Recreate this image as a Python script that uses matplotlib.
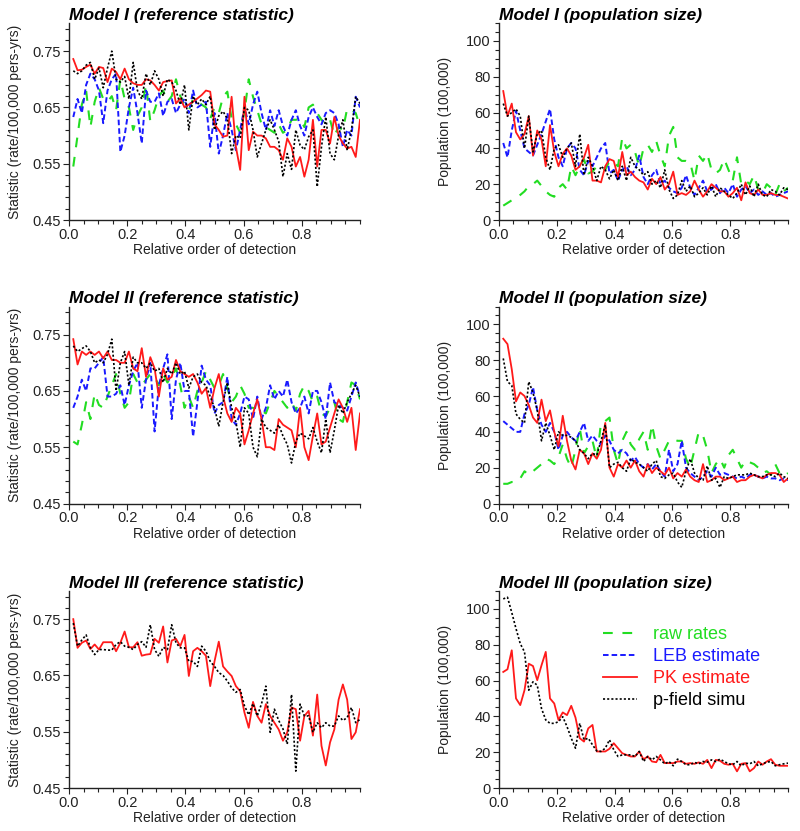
import numpy as np
import matplotlib
matplotlib.use('Agg')
import matplotlib.pyplot as plt
from matplotlib.lines import Line2D
from matplotlib.ticker import FixedLocator, FormatStrFormatter

plt.rcParams['font.family'] = ['Liberation Sans', 'DejaVu Sans']
plt.rcParams['lines.scale_dashes'] = False

# ---------------- data ----------------
N = 68
order = np.arange(1, N + 1) / N   # relative order of detection

series_names = ['raw rates', 'LEB estimate', 'PK estimate', 'p-field simu']

# Model I - reference statistic
m1_stat_raw = [0.545, 0.600, 0.655, 0.680, 0.615, 0.660, 0.685, 0.665, 0.660, 0.670,
               0.645, 0.700, 0.665, 0.650, 0.610, 0.635, 0.650, 0.690, 0.625, 0.645,
               0.670, 0.680, 0.660, 0.670, 0.700, 0.670, 0.655, 0.645, 0.665, 0.660,
               0.655, 0.650, 0.630, 0.650, 0.640, 0.669, 0.678, 0.630, 0.620, 0.605,
               0.643, 0.700, 0.669, 0.645, 0.620, 0.615, 0.610, 0.605, 0.620, 0.605,
               0.610, 0.628, 0.628, 0.630, 0.615, 0.650, 0.655, 0.640, 0.628, 0.620,
               0.628, 0.600, 0.615, 0.610, 0.648, 0.645, 0.640, 0.615]
m1_stat_leb = [0.633, 0.665, 0.640, 0.690, 0.710, 0.700, 0.680, 0.622, 0.680, 0.700,
               0.710, 0.571, 0.600, 0.650, 0.685, 0.640, 0.586, 0.680, 0.660, 0.660,
               0.675, 0.635, 0.660, 0.665, 0.640, 0.655, 0.665, 0.640, 0.680, 0.650,
               0.655, 0.660, 0.580, 0.640, 0.568, 0.600, 0.640, 0.610, 0.574, 0.610,
               0.650, 0.620, 0.655, 0.678, 0.640, 0.610, 0.645, 0.617, 0.645, 0.617,
               0.600, 0.628, 0.645, 0.617, 0.600, 0.633, 0.650, 0.633, 0.620, 0.640,
               0.645, 0.640, 0.620, 0.580, 0.610, 0.600, 0.669, 0.650]
m1_stat_pk = [0.736, 0.716, 0.717, 0.722, 0.726, 0.710, 0.722, 0.720, 0.695, 0.719,
              0.713, 0.700, 0.719, 0.700, 0.693, 0.690, 0.690, 0.700, 0.698, 0.690,
              0.680, 0.695, 0.697, 0.698, 0.657, 0.666, 0.650, 0.655, 0.660, 0.666,
              0.672, 0.680, 0.678, 0.620, 0.610, 0.598, 0.600, 0.669, 0.580, 0.539,
              0.669, 0.574, 0.607, 0.600, 0.600, 0.595, 0.580, 0.580, 0.574, 0.557,
              0.595, 0.580, 0.545, 0.562, 0.527, 0.557, 0.628, 0.545, 0.610, 0.610,
              0.586, 0.633, 0.600, 0.586, 0.577, 0.580, 0.562, 0.628]
m1_stat_pf = [0.715, 0.710, 0.715, 0.725, 0.730, 0.700, 0.720, 0.685, 0.720, 0.750,
              0.700, 0.695, 0.705, 0.665, 0.730, 0.680, 0.665, 0.710, 0.690, 0.715,
              0.700, 0.670, 0.700, 0.695, 0.680, 0.655, 0.690, 0.610, 0.670, 0.655,
              0.665, 0.655, 0.670, 0.610, 0.635, 0.643, 0.630, 0.568, 0.600, 0.595,
              0.650, 0.645, 0.610, 0.562, 0.586, 0.610, 0.628, 0.610, 0.590, 0.527,
              0.568, 0.540, 0.610, 0.583, 0.575, 0.598, 0.610, 0.509, 0.580, 0.633,
              0.568, 0.557, 0.600, 0.628, 0.574, 0.610, 0.669, 0.657]

# Model I - population size
m1_pop_raw = [8, 9.5, 11, 12, 14, 16, 19, 20, 22, 19,
              16, 14, 13, 18, 20, 17, 30, 25, 30, 34,
              26, 27, 30, 30, 28, 33, 32, 30, 46, 40,
              42, 38, 30, 40, 42, 38, 44, 36, 30, 47,
              52, 35, 33, 33, 32, 22, 36, 33, 37, 28,
              26, 28, 34, 28, 22, 35, 20, 22, 20, 25,
              17, 15, 20, 18, 14, 20, 16, 18]
m1_pop_leb = [43, 35, 50, 61, 50, 40, 38, 36, 42, 48,
              55, 62, 45, 35, 30, 40, 43, 40, 28, 25,
              33, 30, 35, 40, 43, 26, 28, 22, 28, 30,
              25, 28, 36, 24, 20, 25, 28, 20, 22, 18,
              16, 15, 18, 25, 18, 14, 18, 22, 16, 17,
              20, 15, 18, 15, 20, 13, 17, 19, 15, 17,
              14, 16, 14, 15, 13, 14, 15, 16]
m1_pop_pk = [72, 58, 65, 49, 45, 48, 58, 36, 50, 45,
             30, 53, 38, 30, 37, 40, 36, 28, 30, 35,
             42, 22, 22, 21, 30, 34, 33, 24, 38, 25,
             27, 24, 22, 21, 17, 23, 20, 24, 17, 20,
             27, 14, 15, 14, 16, 22, 17, 13, 16, 20,
             18, 16, 16, 13, 15, 18, 11, 21, 15, 14,
             17, 14, 14, 15, 14, 14, 13, 12]
m1_pop_pf = [65, 58, 60, 62, 58, 40, 58, 38, 48, 50,
             35, 28, 40, 42, 35, 40, 43, 30, 48, 25,
             35, 30, 22, 30, 28, 23, 28, 22, 30, 22,
             35, 30, 28, 25, 27, 20, 22, 18, 28, 17,
             12, 14, 22, 16, 19, 13, 15, 18, 14, 19,
             13, 18, 16, 14, 12, 15, 20, 14, 19, 13,
             20, 14, 13, 17, 16, 14, 18, 17]

# Model II - reference statistic
m2_stat_raw = [0.560, 0.555, 0.590, 0.630, 0.600, 0.645, 0.625, 0.620, 0.640, 0.660,
               0.680, 0.645, 0.620, 0.630, 0.680, 0.665, 0.660, 0.670, 0.680, 0.675,
               0.660, 0.680, 0.665, 0.675, 0.690, 0.660, 0.620, 0.640, 0.620, 0.650,
               0.665, 0.685, 0.670, 0.655, 0.660, 0.680, 0.655, 0.630, 0.640, 0.660,
               0.645, 0.620, 0.620, 0.615, 0.615, 0.610, 0.630, 0.650, 0.640, 0.630,
               0.620, 0.630, 0.615, 0.645, 0.660, 0.650, 0.630, 0.640, 0.610, 0.605,
               0.620, 0.630, 0.600, 0.595, 0.630, 0.665, 0.660, 0.635]
m2_stat_leb = [0.620, 0.640, 0.670, 0.650, 0.690, 0.690, 0.700, 0.710, 0.640, 0.640,
               0.645, 0.660, 0.625, 0.660, 0.685, 0.700, 0.620, 0.670, 0.700, 0.578,
               0.660, 0.690, 0.715, 0.600, 0.670, 0.700, 0.650, 0.650, 0.569, 0.630,
               0.695, 0.670, 0.660, 0.610, 0.625, 0.630, 0.675, 0.600, 0.590, 0.610,
               0.640, 0.635, 0.600, 0.640, 0.600, 0.620, 0.660, 0.635, 0.650, 0.640,
               0.670, 0.630, 0.610, 0.620, 0.640, 0.610, 0.650, 0.650, 0.630, 0.600,
               0.665, 0.630, 0.625, 0.620, 0.615, 0.640, 0.665, 0.640]
m2_stat_pk = [0.742, 0.697, 0.720, 0.714, 0.720, 0.714, 0.720, 0.708, 0.720, 0.705,
              0.705, 0.700, 0.700, 0.720, 0.690, 0.685, 0.726, 0.675, 0.710, 0.690,
              0.640, 0.690, 0.670, 0.675, 0.705, 0.685, 0.680, 0.675, 0.680, 0.665,
              0.645, 0.655, 0.620, 0.655, 0.680, 0.640, 0.610, 0.595, 0.620, 0.610,
              0.555, 0.580, 0.610, 0.635, 0.600, 0.550, 0.550, 0.545, 0.600, 0.590,
              0.585, 0.580, 0.550, 0.620, 0.550, 0.527, 0.570, 0.610, 0.555, 0.560,
              0.585, 0.610, 0.635, 0.620, 0.595, 0.620, 0.545, 0.610]
m2_stat_pf = [0.730, 0.720, 0.725, 0.730, 0.720, 0.700, 0.705, 0.700, 0.715, 0.742,
              0.650, 0.700, 0.720, 0.660, 0.710, 0.700, 0.700, 0.690, 0.700, 0.685,
              0.690, 0.665, 0.690, 0.680, 0.700, 0.680, 0.685, 0.655, 0.675, 0.680,
              0.665, 0.660, 0.640, 0.620, 0.587, 0.630, 0.665, 0.620, 0.595, 0.550,
              0.620, 0.610, 0.550, 0.533, 0.600, 0.585, 0.580, 0.575, 0.590, 0.570,
              0.555, 0.522, 0.560, 0.575, 0.570, 0.565, 0.585, 0.560, 0.540, 0.600,
              0.540, 0.580, 0.625, 0.610, 0.630, 0.645, 0.660, 0.640]

# Model II - population size
m2_pop_raw = [11, 11, 12, 12, 14, 18, 16, 18, 20, 22,
              25, 24, 22, 26, 33, 25, 20, 30, 42, 28,
              32, 35, 25, 45, 46, 48, 30, 22, 35, 40,
              33, 30, 36, 40, 30, 44, 32, 25, 30, 35,
              36, 35, 35, 25, 20, 30, 40, 38, 30, 17,
              22, 25, 20, 27, 30, 25, 20, 24, 23, 22,
              20, 17, 18, 16, 22, 17, 15, 17]
m2_pop_leb = [46, 44, 42, 40, 40, 50, 55, 65, 52, 44,
              40, 45, 40, 30, 38, 40, 37, 35, 40, 45,
              35, 38, 35, 33, 38, 35, 30, 28, 30, 28,
              24, 26, 22, 20, 22, 19, 22, 18, 15, 30,
              18, 22, 35, 20, 17, 15, 13, 15, 18, 15,
              20, 16, 17, 16, 15, 14, 15, 14, 16, 16,
              15, 14, 15, 14, 14, 13, 14, 13]
m2_pop_pk = [92, 89, 75, 57, 62, 60, 55, 48, 45, 58,
             46, 52, 40, 32, 49, 35, 24, 19, 30, 28,
             22, 28, 25, 30, 45, 20, 15, 22, 20, 24,
             20, 24, 18, 15, 22, 17, 20, 18, 16, 20,
             14, 17, 15, 19, 15, 13, 12, 22, 12, 13,
             15, 15, 13, 14, 15, 12, 13, 13, 15, 16,
             15, 14, 16, 17, 17, 16, 12, 14]
m2_pop_pf = [81, 68, 66, 50, 47, 45, 68, 62, 52, 35,
             45, 38, 30, 40, 38, 38, 37, 35, 30, 28,
             25, 28, 27, 35, 44, 20, 22, 23, 20, 18,
             25, 23, 22, 20, 18, 22, 24, 15, 14, 16,
             17, 12, 9, 18, 25, 17, 14, 13, 21, 13,
             14, 9, 15, 14, 15, 16, 16, 16, 17, 16,
             15, 15, 16, 16, 15, 17, 15, 14]

# Model III - reference statistic (PK and p-field only)
m3_stat_pk = [0.750, 0.699, 0.708, 0.712, 0.697, 0.705, 0.696, 0.709, 0.709, 0.709,
              0.693, 0.708, 0.728, 0.700, 0.700, 0.709, 0.685, 0.687, 0.688, 0.715,
              0.708, 0.737, 0.673, 0.712, 0.715, 0.702, 0.722, 0.649, 0.693, 0.699,
              0.693, 0.685, 0.631, 0.675, 0.710, 0.666, 0.657, 0.649, 0.631, 0.622,
              0.584, 0.557, 0.603, 0.578, 0.566, 0.599, 0.578, 0.566, 0.554, 0.534,
              0.549, 0.593, 0.590, 0.534, 0.578, 0.587, 0.543, 0.616, 0.525, 0.490,
              0.531, 0.554, 0.607, 0.634, 0.607, 0.537, 0.549, 0.590]
m3_stat_pf = [0.743, 0.702, 0.713, 0.722, 0.699, 0.687, 0.696, 0.696, 0.695, 0.695,
              0.705, 0.710, 0.702, 0.700, 0.696, 0.705, 0.710, 0.700, 0.740, 0.696,
              0.684, 0.700, 0.696, 0.740, 0.708, 0.699, 0.699, 0.675, 0.675, 0.666,
              0.702, 0.693, 0.675, 0.666, 0.655, 0.650, 0.640, 0.628, 0.620, 0.625,
              0.596, 0.580, 0.600, 0.578, 0.600, 0.631, 0.549, 0.590, 0.570, 0.555,
              0.528, 0.616, 0.480, 0.599, 0.578, 0.578, 0.549, 0.566, 0.557, 0.566,
              0.560, 0.560, 0.578, 0.570, 0.575, 0.593, 0.566, 0.572]

# Model III - population size (PK and p-field only)
m3_pop_pk = [64.8, 66.3, 76.9, 50.0, 46.3, 54.6, 69.4, 68.1, 60.2, 68.5,
             76.0, 50.0, 47.2, 38.0, 42.2, 40.7, 45.9, 39.3, 27.8, 25.9,
             33.3, 35.2, 20.4, 20.4, 20.4, 21.9, 25.0, 22.2, 19.4, 18.5,
             17.6, 17.6, 20.4, 16.0, 17.6, 14.8, 14.4, 18.5, 13.9, 13.9,
             13.9, 14.8, 14.8, 13.5, 13.9, 13.5, 14.3, 13.5, 15.7, 11.1,
             15.7, 15.2, 13.5, 13.0, 13.5, 9.3, 13.5, 13.9, 9.3, 11.1,
             14.8, 13.0, 14.8, 16.1, 13.0, 12.4, 12.4, 12.4]
m3_pop_pf = [105.6, 106.5, 98.0, 89.0, 80.6, 76.0, 54.6, 59.3, 57.4, 44.4,
             38.0, 36.1, 36.1, 37.0, 39.8, 34.3, 27.8, 22.2, 36.1, 26.9,
             27.8, 24.1, 20.7, 20.4, 22.2, 26.9, 21.3, 17.6, 18.5, 18.5,
             18.5, 17.6, 20.4, 14.8, 17.6, 15.7, 17.6, 15.7, 13.5, 14.8,
             12.4, 16.1, 14.8, 13.0, 13.0, 14.3, 13.5, 14.8, 14.4, 15.7,
             14.8, 16.1, 14.8, 13.5, 13.0, 14.8, 12.4, 13.9, 13.5, 14.8,
             12.4, 13.5, 14.4, 14.8, 12.4, 13.0, 13.5, 13.9]

panel_titles = ['Model I (reference statistic)', 'Model I (population size)',
                'Model II (reference statistic)', 'Model II (population size)',
                'Model III (reference statistic)', 'Model III (population size)']

# ---------------- styles ----------------
styles = {
    'raw rates':    dict(color='#22dd22', lw=1.5, dashes=(7, 7)),
    'LEB estimate': dict(color='#1a1aff', lw=1.4, dashes=(4, 2.2)),
    'PK estimate':  dict(color='#ff1a1a', lw=1.3, dashes=()),
    'p-field simu': dict(color='#000000', lw=1.2, dashes=(1.5, 1.5)),
}

panels = [
    ('stat', [m1_stat_raw, m1_stat_leb, m1_stat_pk, m1_stat_pf]),
    ('pop',  [m1_pop_raw, m1_pop_leb, m1_pop_pk, m1_pop_pf]),
    ('stat', [m2_stat_raw, m2_stat_leb, m2_stat_pk, m2_stat_pf]),
    ('pop',  [m2_pop_raw, m2_pop_leb, m2_pop_pk, m2_pop_pf]),
    ('stat', [None, None, m3_stat_pk, m3_stat_pf]),
    ('pop',  [None, None, m3_pop_pk, m3_pop_pf]),
]

W, H = 800, 831
fig = plt.figure(figsize=(W / 100, H / 100), dpi=100)

col_left = [69, 499]
col_width = [291, 289]
row_bottom = [220, 503.5, 788]
ax_h = 197

tick_col = '#222222'
axes = []
for k, (kind, data) in enumerate(panels):
    r, c = divmod(k, 2)
    ax = fig.add_axes([col_left[c] / W, 1 - row_bottom[r] / H,
                       col_width[c] / W, ax_h / H])
    axes.append(ax)
    for name, ys in zip(series_names, data):
        if ys is None:
            continue
        st = styles[name]
        line, = ax.plot(order, ys, color=st['color'], lw=st['lw'])
        if st['dashes']:
            line.set_dashes(st['dashes'])
    for s in ['top', 'right']:
        ax.spines[s].set_visible(False)
    for s in ['left', 'bottom']:
        ax.spines[s].set_linewidth(1.0)
        ax.spines[s].set_color(tick_col)
    ax.set_xlim(0, 1.0)
    ax.xaxis.set_major_locator(FixedLocator([0, 0.2, 0.4, 0.6, 0.8]))
    ax.xaxis.set_minor_locator(FixedLocator(np.arange(0.05, 1.001, 0.05)))
    ax.xaxis.set_major_formatter(FormatStrFormatter('%.1f'))
    if kind == 'stat':
        ax.set_ylim(0.45, 0.80)
        ax.yaxis.set_major_locator(FixedLocator([0.45, 0.55, 0.65, 0.75]))
        ax.yaxis.set_minor_locator(FixedLocator(np.arange(0.45, 0.80, 0.02)))
        ax.yaxis.set_major_formatter(FormatStrFormatter('%.2f'))
        ax.set_ylabel('Statistic (rate/100,000 pers-yrs)', fontsize=10,
                      labelpad=7, color=tick_col)
    else:
        ax.set_ylim(0, 110)
        ax.yaxis.set_major_locator(FixedLocator([0, 20, 40, 60, 80, 100]))
        ax.yaxis.set_minor_locator(FixedLocator(np.arange(0, 111, 5)))
        ax.set_ylabel('Population (100,000)', fontsize=10, labelpad=10,
                      color=tick_col)
    ax.set_xlabel('Relative order of detection', fontsize=10, labelpad=1,
                  color=tick_col)
    ax.tick_params(which='both', direction='out', color=tick_col,
                   labelcolor=tick_col, labelsize=10.5, width=0.8)
    ax.tick_params(which='major', length=4, pad=2)
    ax.tick_params(axis='x', which='major', pad=1.5)
    ax.tick_params(which='minor', length=3)
    ax.set_title(panel_titles[k], loc='left', fontsize=12.5,
                 fontweight='bold', fontstyle='italic', pad=2)

# legend in the last panel
handles = []
for name in series_names:
    st = styles[name]
    h = Line2D([], [], color=st['color'], lw=st['lw'])
    if st['dashes']:
        h.set_dashes(st['dashes'])
    handles.append(h)
leg = axes[5].legend(handles, series_names, loc='upper left',
                     bbox_to_anchor=(603 / W, 1 - 626 / H),
                     bbox_transform=fig.transFigure, frameon=False,
                     fontsize=13, handlelength=1.9, handletextpad=0.85,
                     labelspacing=0.28, borderpad=0, borderaxespad=0,
                     labelcolor='linecolor')

fig.savefig('out.png', dpi=100)
